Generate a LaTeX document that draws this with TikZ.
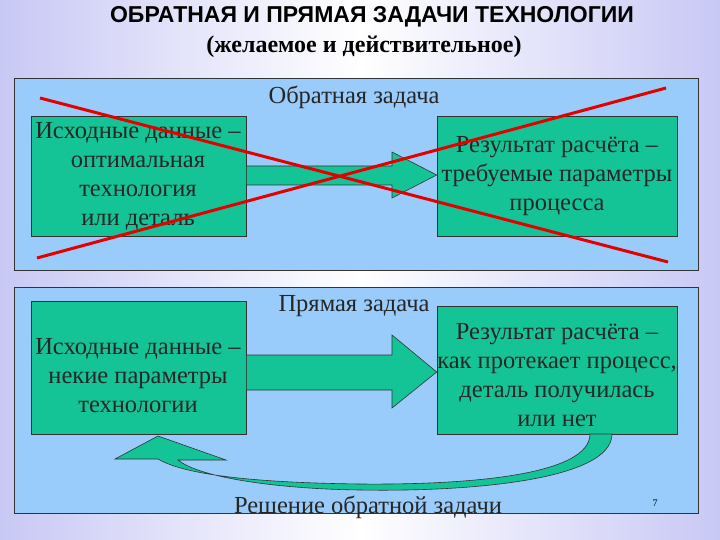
\documentclass[tikz,border=0pt]{standalone}
\usepackage{fontspec}
\setmainfont{Liberation Serif}
\setsansfont{Liberation Sans}
\begin{document}
\begin{tikzpicture}[x=1pt,y=-1pt,
  panel/.style={draw=black!80,line width=0.8pt,fill=panelblue},
  gbox/.style={draw=black!80,line width=0.6pt,fill=boxgreen},
  lbl/.style={font=\fontsize{24.5}{29}\selectfont,align=center,text=black!85},
  cross/.style={draw=red!90!black,line width=3pt}]
\definecolor{panelblue}{RGB}{153,204,250}
\definecolor{boxgreen}{RGB}{20,196,150}
\definecolor{lav}{RGB}{200,200,245}
\useasboundingbox (0,0) rectangle (720,540);
\shade[left color=lav,right color=lav,middle color=white] (0,0) rectangle (720,540);
\node[font=\sffamily\bfseries\fontsize{23}{26}\selectfont] (title) at (372,17) {ОБРАТНАЯ И ПРЯМАЯ ЗАДАЧИ ТЕХНОЛОГИИ};
\node[font=\bfseries\fontsize{24}{26}\selectfont] (sub) at (364,47) {(желаемое и действительное)};
% top panel
\draw[panel] (14,78) rectangle (698,270);
\node[lbl] (t1) at (354,97) {Обратная задача};
\node[gbox,minimum width=215,minimum height=120,inner sep=0pt] (a1) at (138.5,176) {};
\node[lbl] at (138,176) {Исходные данные –\\оптимальная\\технология\\или деталь};
\node[gbox,minimum width=240,minimum height=120,inner sep=0pt] (b1) at (557,176) {};
\node[lbl] at (557,176) {Результат расчёта –\\требуемые параметры\\процесса};
\draw[gbox] (a1.east |- 0,166) -- (392,166) -- (392,152) -- (b1.west |- 0,175) -- (392,198) -- (392,185) -- (a1.east |- 0,185) -- cycle;
\coordinate (c1) at (40,98); \coordinate (c2) at (668,262);
\coordinate (c3) at (37,258); \coordinate (c4) at (666,88);
\draw[cross] (c1) -- (c2);
\draw[cross] (c3) -- (c4);
% bottom panel
\draw[panel] (14,287) rectangle (698,513);
\node[lbl] (t2) at (354,306) {Прямая задача};
\node[gbox,minimum width=215,minimum height=133,inner sep=0pt] (a2) at (138.5,367.5) {};
\node[lbl] at (138,376) {Исходные данные –\\некие параметры\\технологии};
\node[gbox,minimum width=240,minimum height=128,inner sep=0pt] (b2) at (557,370) {};
\node[lbl] at (557,375) {Результат расчёта –\\как протекает процесс,\\деталь получилась\\или нет};
\draw[gbox] (a2.east |- 0,355) -- (392,355) -- (392,335) -- (b2.west |- 0,372) -- (392,408) -- (392,390) -- (a2.east |- 0,390) -- cycle;
\draw[gbox] (612,434) .. controls (612,480) and (470,492) .. (360,490)
  .. controls (280,489) and (200,478) .. (178,460) -- (226,460) -- (158,436) -- (115,459) -- (158,459)
  .. controls (190,478) and (280,483) .. (360,484)
  .. controls (470,485) and (590,475) .. (590,434) -- cycle;
\node[lbl] (t3) at (368,507) {Решение обратной задачи};
\node[font=\fontsize{10}{12}\selectfont] (pg) at (655,503) {7};
\end{tikzpicture}
\end{document}
